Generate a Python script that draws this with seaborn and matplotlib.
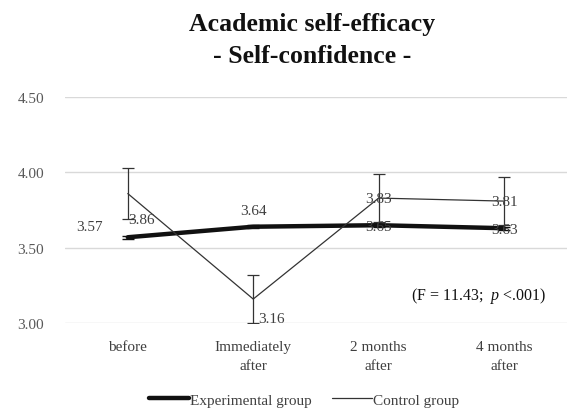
import matplotlib
matplotlib.use("Agg")
import matplotlib.pyplot as plt
import seaborn as sns
import pandas as pd
import numpy as np

# Measurement points and group means
timepoints = ["before", "Immediately\nafter", "2 months\nafter", "4 months\nafter"]
experimental = [3.57, 3.64, 3.65, 3.63]
control = [3.86, 3.16, 3.83, 3.81]
experimental_sd = [0.01, 0.01, 0.01, 0.01]
control_sd = [0.17, 0.16, 0.16, 0.16]
group_names = ["Experimental group", "Control group"]
y_ticks = [3.00, 3.50, 4.00, 4.50]
stat_text = r"(F = 11.43;  $\it{p}$ <.001)"

sns.set_theme(style="white")
plt.rcParams["font.family"] = ["Liberation Serif", "DejaVu Serif"]
plt.rcParams["mathtext.fontset"] = "custom"
plt.rcParams["mathtext.it"] = "Liberation Serif:italic"
plt.rcParams["mathtext.rm"] = "Liberation Serif"

pos = np.arange(len(timepoints))
df = pd.DataFrame({
    "pos": np.concatenate([pos, pos]),
    "mean": experimental + control,
    "sd": experimental_sd + control_sd,
    "group": [group_names[0]] * len(pos) + [group_names[1]] * len(pos),
})

fig = plt.figure(figsize=(5.76, 4.14), dpi=100)
ax = fig.add_axes([0.113, 0.217, 0.871, 0.546])

sns.lineplot(data=df, x="pos", y="mean", hue="group", size="group",
             sizes={group_names[0]: 3.2, group_names[1]: 0.9},
             palette={group_names[0]: "#111111", group_names[1]: "#333333"},
             ax=ax, legend=False, zorder=3)

# error bars for each group
for name, color, lw in [(group_names[0], "#111111", 1.0),
                        (group_names[1], "#333333", 0.9)]:
    sub = df[df["group"] == name]
    ax.errorbar(sub["pos"], sub["mean"], yerr=sub["sd"], fmt="none",
                ecolor=color, elinewidth=lw, capsize=4, capthick=lw, zorder=2)

ax.set_ylim(3.0, 4.5)
ax.set_xlim(-0.5, len(timepoints) - 0.5)
ax.set_yticks(y_ticks)
ax.set_yticklabels([f"{v:.2f}" for v in y_ticks], color="#595959", fontsize=11)
ax.set_xticks(pos)
ax.set_xticklabels(timepoints, color="#404040", fontsize=11, linespacing=1.6)
ax.tick_params(axis="y", length=0, pad=15)
ax.tick_params(axis="x", length=0, pad=12)
ax.set_xlabel("")
ax.set_ylabel("")
ax.yaxis.grid(True, color="#d9d9d9", linewidth=1)
ax.xaxis.grid(False)
for s in ax.spines.values():
    s.set_visible(False)

lab_kw = dict(fontsize=11, color="#404040", zorder=5)
# experimental labels
ax.text(pos[0] - 0.2, experimental[0] + 0.07, f"{experimental[0]:.2f}", ha="right", va="center", **lab_kw)
ax.text(pos[1], experimental[1] + 0.11, f"{experimental[1]:.2f}", ha="center", va="center", **lab_kw)
ax.text(pos[2], experimental[2] - 0.01, f"{experimental[2]:.2f}", ha="center", va="center", **lab_kw)
ax.text(pos[3], experimental[3] - 0.01, f"{experimental[3]:.2f}", ha="center", va="center", **lab_kw)
# control labels
ax.text(pos[0] + 0.0, control[0] - 0.17, f"{control[0]:.2f}", ha="left", va="center", **lab_kw)
ax.text(pos[1] + 0.04, control[1] - 0.13, f"{control[1]:.2f}", ha="left", va="center", **lab_kw)
ax.text(pos[2], control[2], f"{control[2]:.2f}", ha="center", va="center", **lab_kw)
ax.text(pos[3], control[3], f"{control[3]:.2f}", ha="center", va="center", **lab_kw)

ax.text(2.80, 3.185, stat_text, ha="center", va="center", fontsize=11.5, color="#111111")

fig.text(0.542, 0.902, "Academic self-efficacy\n- Self-confidence -", ha="center", va="center",
         fontsize=18.5, fontweight="bold", color="#111111", linespacing=1.5)

handles = [plt.Line2D([], [], color="#111111", lw=3.2),
           plt.Line2D([], [], color="#333333", lw=0.9)]
fig.legend(handles, group_names, loc="center", bbox_to_anchor=(0.528, 0.032), ncol=2,
           frameon=False, fontsize=11, handlelength=2.6, handletextpad=0.1,
           columnspacing=1.3, labelcolor="#404040")

fig.savefig("out.png", dpi=100)
